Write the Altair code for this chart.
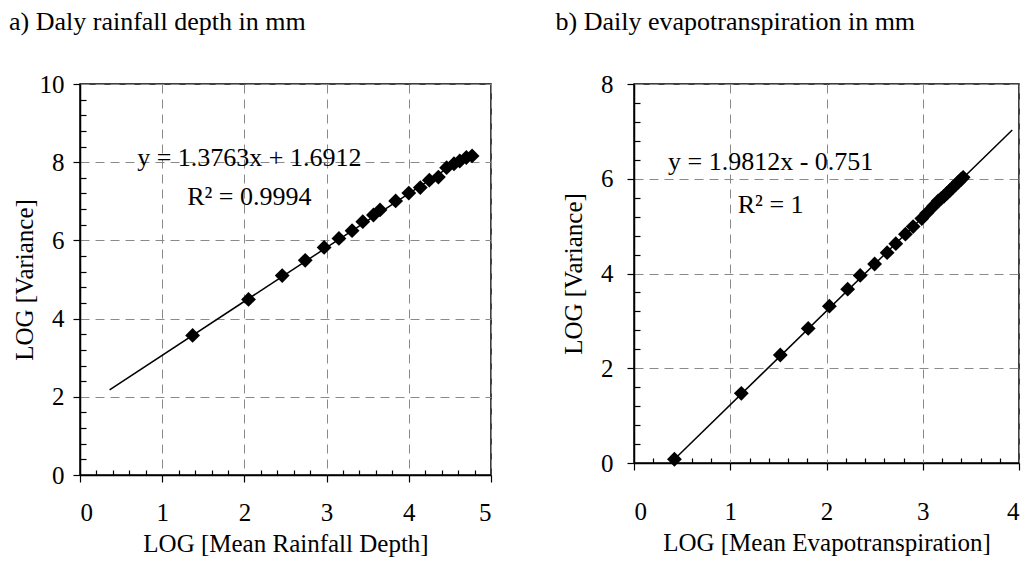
import altair as alt
import pandas as pd

FONT = "Liberation Serif"

# ---- panel a) rainfall ----
rain_x = [1.37, 2.05, 2.46, 2.74, 2.97, 3.15, 3.31, 3.44, 3.57, 3.65, 3.84, 4.00,
          4.14, 4.25, 4.36, 4.46, 4.55, 4.62, 4.70, 4.77]
rain_y = [3.57, 4.49, 5.10, 5.49, 5.82, 6.05, 6.25, 6.48, 6.65, 6.78, 7.01, 7.21,
          7.35, 7.54, 7.62, 7.86, 7.96, 8.03, 8.12, 8.16]
rain_fit_x = [0.36, 4.77]
rain_fit_y = [2.18, 8.26]
rain_eq = "y = 1.3763x + 1.6912"
rain_r2 = "R\u00b2 = 0.9994"

# ---- panel b) evapotranspiration ----
et_x = [0.42, 1.115, 1.52, 1.81, 2.03, 2.22, 2.35, 2.50, 2.63, 2.72, 2.82, 2.90,
        2.99, 3.04, 3.11, 3.16, 3.19, 3.22, 3.25, 3.28, 3.31, 3.34, 3.37, 3.40, 3.42]
et_y = [0.08, 1.47, 2.28, 2.84, 3.31, 3.67, 3.96, 4.20, 4.44, 4.63, 4.83, 4.99,
        5.16, 5.27, 5.42, 5.53, 5.58, 5.63, 5.69, 5.75, 5.81, 5.87, 5.93, 5.99, 6.03]
et_fit_x = [0.42, 3.93]
et_fit_y = [0.08, 7.03]
et_eq = "y = 1.9812x - 0.751"
et_r2 = "R\u00b2 = 1"


def minor_vals(step, top, major):
    out = []
    n = int(round(top / step))
    for i in range(1, n):
        v = round(i * step, 2)
        if abs(v / major - round(v / major)) > 1e-6:
            out.append(v)
    return out


def panel(px, py, fx, fy, eq, r2, eq_pos, r2_pos, xmax, ymax, ystep,
          xtitle, title, W, H, xlabpad, ylabpad, ytitlepad, toff, tdx):
    xs = alt.Scale(domain=[0, xmax], nice=False, zero=False)
    ys = alt.Scale(domain=[0, ymax], nice=False, zero=False)
    major_x = alt.Axis(values=list(range(0, xmax + 1)), title=xtitle, tickSize=7,
                       labelPadding=xlabpad, titlePadding=6, grid=True)
    major_y = alt.Axis(values=list(range(0, ymax + 1, ystep)), title="LOG [Variance]",
                       tickSize=7, labelPadding=ylabpad, titlePadding=ytitlepad, grid=True)
    minor_x = alt.Axis(orient="top", offset=-H, values=minor_vals(0.2, xmax, 1),
                       labels=False, domain=False, grid=False, tickSize=5, title=None)
    minor_y = alt.Axis(orient="right", offset=-W, values=minor_vals(0.4, ymax, ystep),
                       labels=False, domain=False, grid=False, tickSize=6, title=None)

    pts = pd.DataFrame({"x": px, "y": py})
    fit = pd.DataFrame({"x": fx, "y": fy})

    line = alt.Chart(fit).mark_line(color="black", strokeWidth=1.5).encode(
        x=alt.X("x:Q", scale=xs, axis=minor_x),
        y=alt.Y("y:Q", scale=ys, axis=minor_y),
    )
    points = alt.Chart(pts).mark_point(shape="diamond", filled=True, color="black",
                                       size=220, opacity=1).encode(
        x=alt.X("x:Q", scale=xs, axis=major_x),
        y=alt.Y("y:Q", scale=ys, axis=major_y),
    )
    t1 = alt.Chart(pts).mark_text(font=FONT, fontSize=26, color="black",
                                  align="center", baseline="middle").encode(
        x=alt.XDatum(eq_pos[0], scale=xs, axis=None),
        y=alt.YDatum(eq_pos[1], scale=ys, axis=None),
        text=alt.value(eq),
    ).transform_filter("datum.x == " + str(px[0]))
    t2 = alt.Chart(pts).mark_text(font=FONT, fontSize=26, color="black",
                                  align="center", baseline="middle").encode(
        x=alt.XDatum(r2_pos[0], scale=xs, axis=None),
        y=alt.YDatum(r2_pos[1], scale=ys, axis=None),
        text=alt.value(r2),
    ).transform_filter("datum.x == " + str(px[0]))

    return alt.layer(line, points, t1, t2).resolve_axis(
        x="independent", y="independent"
    ).properties(
        width=W, height=H,
        title=alt.TitleParams(title, anchor="start", frame="bounds", font=FONT,
                              fontSize=26, fontWeight="normal", color="black",
                              offset=toff, dx=tdx),
    )


left = panel(rain_x, rain_y, rain_fit_x, rain_fit_y, rain_eq, rain_r2,
             (2.06, 8.11), (2.06, 7.1), 5, 10, 2,
             "LOG [Mean Rainfall Depth]", "a) Daly rainfall depth in mm",
             411, 391, 18, 9, 2, 37, -3)
right = panel(et_x, et_y, et_fit_x, et_fit_y, et_eq, et_r2,
              (1.42, 6.35), (1.42, 5.45), 4, 8, 2,
              "LOG [Mean Evapotranspiration]", "b) Daily evapotranspiration in mm",
              385, 379, 29, 14, 14, 37, -6)

chart = alt.hconcat(left, right, spacing=61).properties(
    padding={"left": 0, "top": 0, "right": 0, "bottom": 0},
    background="white",
).configure_view(
    stroke="black", strokeWidth=1.5
).configure_axis(
    labelFont=FONT, titleFont=FONT, labelFontSize=25, titleFontSize=25,
    labelColor="black", titleColor="black", titleFontWeight="normal",
    domainColor="black", domainWidth=1.5, tickColor="black", tickWidth=1.2,
    gridColor="#8a8a8a", gridDash=[9, 6], gridWidth=1,
)

chart.save("out.html", embed_options={"renderer": "svg", "actions": False})
